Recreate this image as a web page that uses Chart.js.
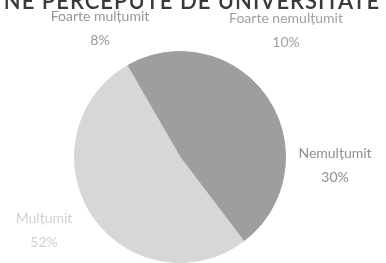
<!DOCTYPE html>
<html>
<head>
<meta charset="utf-8">
<script src="https://cdn.jsdelivr.net/npm/chart.js@4/dist/chart.umd.min.js"></script>
<style>
  html, body { margin: 0; padding: 0; background: #fff; }
  #wrap { width: 386px; height: 263px; }
</style>
</head>
<body>
<div id="wrap"><canvas id="pie"></canvas></div>
<script>
const titleText = 'NE PERCEPUTE DE UNIVERSITATE';
const categories = ['Foarte mulțumit', 'Foarte nemulțumit', 'Nemulțumit', 'Mulțumit'];
const percents = [8, 10, 30, 52];
const sliceColors = ['#9e9e9e', '#9e9e9e', '#9e9e9e', '#d7d7d7'];
const labelColors = ['#979797', '#a0a0a0', '#8e8e8e', '#d0d0d0'];

// label placement relative to pie centre (hand-placed in the original)
const labelOffsets = [[-80, -129], [106, -127], [155, 8], [-136, 73]];

const labelsPlugin = {
  id: 'pieLabels',
  afterDraw(chart) {
    const ctx = chart.ctx;
    const arcs = chart.getDatasetMeta(0).data;
    ctx.save();
    // title, top cut off as in the scan
    ctx.fillStyle = '#3a3a3a';
    ctx.font = '600 22px Lato, "Open Sans", sans-serif';
    ctx.letterSpacing = '1px';
    ctx.textAlign = 'center';
    ctx.textBaseline = 'alphabetic';
    ctx.fillText(titleText, 192, 9);
    ctx.letterSpacing = '0px';

    ctx.font = '14px Lato, "Open Sans", sans-serif';
    ctx.textBaseline = 'middle';
    arcs.forEach((arc, i) => {
      const x = arc.x + labelOffsets[i][0];
      const y = arc.y + labelOffsets[i][1];
      ctx.fillStyle = labelColors[i];
      ctx.fillText(categories[i], x, y - 12);
      ctx.fillText(percents[i] + '%', x, y + 12);
    });
    ctx.restore();
  }
};

new Chart(document.getElementById('pie'), {
  type: 'pie',
  data: {
    labels: categories,
    datasets: [{
      data: percents,
      backgroundColor: sliceColors,
      borderColor: sliceColors,
      borderWidth: 1
    }]
  },
  options: {
    responsive: true,
    maintainAspectRatio: false,
    animation: false,
    rotation: -30,
    layout: { padding: { left: 74, right: 100, top: 51, bottom: 0 } },
    plugins: {
      legend: { display: false },
      tooltip: { enabled: false }
    }
  },
  plugins: [labelsPlugin]
});
</script>
</body>
</html>
